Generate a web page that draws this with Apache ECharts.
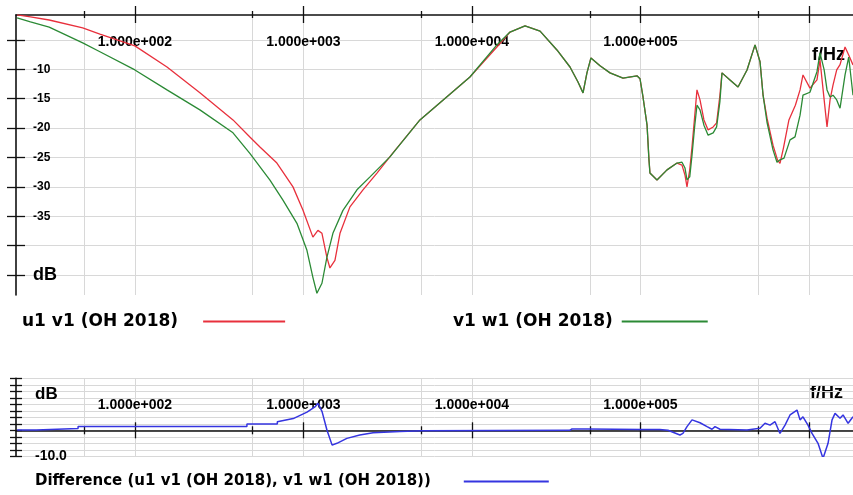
<!DOCTYPE html>
<html><head><meta charset="utf-8">
<script src="https://cdn.jsdelivr.net/npm/echarts@6/dist/echarts.min.js"></script>
<style>html,body{margin:0;padding:0;background:#fff}#c{width:853px;height:495px}</style>
</head><body><div id="c"></div>
<script>
// ---- data (frequency in Hz, level in dB) ----
const redName = 'u1 v1 (OH 2018)';
const greenName = 'v1 w1 (OH 2018)';
const diffName = 'Difference (u1 v1 (OH 2018), v1 w1 (OH 2018))';

const redFreq = [20, 24, 31, 49, 62, 100, 155, 243, 382, 481, 552, 696, 867, 993, 1138, 1219, 1288, 1378, 1436, 1538, 1648, 1888, 2256, 2731, 3398, 4913, 9726, 14060, 16820, 20650, 25360, 31930, 38170, 42580, 45610, 48120, 50820, 57520, 65930, 78760, 95310, 99360, 103500, 109400, 112300, 113800, 125300, 143700, 164800, 176300, 183700, 188800, 196000, 202200, 210000, 216400, 225500, 238000, 252000, 270000, 283000, 296000, 304600, 339700, 379200, 428700, 478300, 512100, 533800, 563400, 611500, 650000, 672700, 705000, 760000, 830000, 884800, 921000, 1013000, 1115000, 1162000, 1230000, 1279000, 1333000, 1388000, 1460000, 1528000, 1636000, 1720000, 1824000];
const redDb = [-0.73, -1.07, -1.6, -2.95, -4.0, -6.0, -9.6, -14.0, -18.6, -21.5, -23.2, -25.95, -30.0, -33.95, -38.55, -37.4, -37.9, -42.0, -43.8, -42.5, -37.9, -33.4, -30.5, -27.65, -24.2, -18.6, -11.3, -6.2, -3.65, -2.6, -3.5, -6.7, -9.6, -12.15, -14.0, -10.6, -8.06, -9.4, -10.6, -11.5, -11.1, -11.6, -14.7, -19.5, -25.4, -27.65, -28.84, -27.1, -25.95, -26.3, -28.0, -30.0, -27.1, -23.2, -17.8, -13.5, -15.2, -18.6, -20.3, -19.8, -19.1, -14.4, -10.6, -11.8, -13.0, -10.1, -5.84, -8.7, -14.4, -18.3, -22.9, -25.4, -26.0, -23.4, -18.6, -16.1, -13.5, -10.95, -13.2, -11.8, -8.4, -15.2, -19.8, -15.2, -12.7, -10.1, -9.2, -6.2, -7.55, -9.25];

const greenFreq = [20, 24, 31, 49, 62, 100, 155, 243, 382, 481, 633, 756, 915, 1049, 1138, 1202, 1288, 1378, 1496, 1716, 2078, 2483, 3261, 4913, 9726, 14060, 16820, 20650, 25360, 31930, 38170, 42580, 45610, 48120, 50820, 57520, 65930, 78760, 95310, 99360, 103500, 109400, 112300, 113800, 125300, 143700, 164800, 176300, 183700, 188800, 196000, 202200, 210000, 216400, 225500, 238000, 252000, 270000, 283000, 296000, 304600, 339700, 379200, 428700, 478300, 512100, 533800, 563400, 611500, 645700, 672700, 711000, 771600, 826000, 884800, 921000, 1013000, 1115000, 1162000, 1230000, 1279000, 1333000, 1388000, 1460000, 1528000, 1636000, 1720000, 1824000];
const greenDb = [-1.24, -1.9, -2.8, -5.5, -7.0, -10.1, -13.5, -16.9, -20.8, -24.3, -28.84, -32.25, -36.2, -40.8, -45.4, -48.1, -46.4, -42.0, -37.9, -34.0, -30.5, -28.3, -24.9, -18.6, -11.3, -5.84, -3.65, -2.6, -3.5, -6.7, -9.6, -12.15, -14.0, -10.6, -8.06, -9.4, -10.6, -11.5, -11.1, -11.6, -14.7, -19.5, -25.4, -27.65, -28.84, -27.1, -25.95, -25.8, -26.8, -28.8, -28.3, -24.6, -19.5, -16.1, -16.9, -19.5, -21.2, -20.8, -19.8, -15.5, -10.6, -11.8, -13.0, -10.1, -5.84, -8.7, -14.4, -19.0, -23.7, -25.8, -25.4, -25.1, -22.0, -21.5, -17.8, -14.4, -13.9, -10.4, -7.2, -10.1, -13.5, -14.7, -14.4, -15.2, -16.6, -10.95, -7.9, -14.4];

const diffFreq = [20, 26, 26, 46, 46, 462, 462, 700, 700, 870, 1050, 1170, 1220, 1290, 1380, 1480, 1580, 1810, 2160, 2590, 3740, 5050, 38000, 39200, 48800, 49500, 102000, 130000, 131000, 145600, 171400, 178600, 188800, 202200, 225500, 248300, 265700, 276800, 296400, 428700, 512100, 548000, 587000, 628600, 672700, 720600, 771600, 848700, 884800, 921000, 986000, 1042000, 1131000, 1211000, 1297000, 1370000, 1427000, 1528000, 1592000, 1706000, 1824000];
const diffDb = [0.1, 0.1, 0.7, 0.7, 1.5, 1.5, 2.4, 2.4, 3.3, 4.5, 7.0, 9.0, 10.4, 7.2, 0, -5.7, -5.0, -3.1, -1.8, -0.9, -0.5, -0.2, 0, 0.5, 0.5, 0, 0.3, 0.3, 0, 0, -1.8, -1.2, 1.4, 4.0, 2.9, 1.4, 0.4, 1.4, 0.4, 0.1, 0.8, 2.7, 2.0, 3.3, -1.2, 2.0, 5.9, 7.8, 4.0, 5.2, 2.0, -1.2, -5.0, -10.8, -5.0, 4.0, 6.5, 4.6, 5.9, 2.7, 5.2];

// axis ranges and tick values
const freqMin = 19.7, freqMax = 1824000;
const majorTicksHz = [100, 1000, 10000, 100000, 1000000];
const minorTicksHz = [50, 500, 5000, 50000, 500000];
const labelTicksHz = [100, 1000, 10000, 100000];
const topDbMin = -48.4, topDbMax = -0.75;
const topDbTicks = [-45, -40, -35, -30, -25, -20, -15, -10, -5];
const topDbLabels = [-45, -35, -30, -25, -20, -15, -10];
const botDbMin = -10, botDbMax = 20;
const botDbTicks = [-10, -7.5, -5, -2.5, 0, 2.5, 5, 7.5, 10, 12.5, 15, 17.5, 20];
const botDbLabels = [-10, 13.75];

// ---- chart ----
const RED = '#e8303c', GREEN = '#2b8a35', BLUE = '#3535e0';
const LBL = {fontFamily: 'Liberation Sans', fontWeight: 'bold', color: '#000'};
const GRIDC = '#d8d8d8';
const lg = v => Math.log10(v);
const lmin = lg(freqMin), lmax = lg(freqMax);
const expFmt = v => '1.000e+' + String(Math.round(v)).padStart(3, '0');

function decorX(grid, opts) {
  return Object.assign({
    type: 'value', gridIndex: grid, min: lmin, max: lmax,
    axisLine: {show: false}, axisLabel: {show: false},
    splitLine: {show: false}, axisTick: {show: false}
  }, opts);
}
function ticks(vals, inside, len) {
  return {show: true, inside: inside, length: len, customValues: vals,
          lineStyle: {color: '#111', width: 1.3}};
}
const majL = majorTicksHz.map(lg), minL = minorTicksHz.map(lg), labL = labelTicksHz.map(lg);
const gridSplit = {show: true, lineStyle: {color: GRIDC, width: 1}};

const xAxes = [
  // top grid
  {type: 'log', gridIndex: 0, min: freqMin, max: freqMax, show: false, logBase: 10},
  decorX(0, {position: 'top', axisLine: {show: true, onZero: false, lineStyle: {color: '#111', width: 1.6}},
             axisTick: ticks(majL, false, 9), splitLine: gridSplit,
             axisLabel: Object.assign({show: true, inside: true, margin: 20, fontSize: 14, customValues: labL, formatter: expFmt}, LBL)}),
  decorX(0, {position: 'top', axisLine: {show: false, onZero: false}, axisTick: ticks(majL, true, 8)}),
  decorX(0, {position: 'top', axisLine: {show: false, onZero: false}, axisTick: ticks(minL, false, 4), splitLine: gridSplit}),
  decorX(0, {position: 'top', axisLine: {show: false, onZero: false}, axisTick: ticks(minL, true, 3)}),
  // bottom grid
  {type: 'log', gridIndex: 1, min: freqMin, max: freqMax, show: false, logBase: 10},
  decorX(1, {position: 'bottom', axisLine: {show: true, onZero: true, onZeroAxisIndex: 2, lineStyle: {color: '#111', width: 1.6}},
             axisTick: ticks(majL, false, 8), splitLine: gridSplit,
             axisLabel: Object.assign({show: true, inside: true, margin: 44, fontSize: 14, customValues: labL, formatter: expFmt}, LBL)}),
  decorX(1, {position: 'bottom', axisLine: {show: false, onZero: true, onZeroAxisIndex: 2}, axisTick: ticks(majL, true, 8)}),
  decorX(1, {position: 'bottom', axisLine: {show: false, onZero: true, onZeroAxisIndex: 2}, axisTick: ticks(minL, false, 4), splitLine: gridSplit}),
  decorX(1, {position: 'bottom', axisLine: {show: false, onZero: true, onZeroAxisIndex: 2}, axisTick: ticks(minL, true, 4)})
];

const yAxes = [
  {type: 'value', gridIndex: 0, position: 'left', min: topDbMin, max: topDbMax,
   axisLine: {show: true, onZero: false, lineStyle: {color: '#111', width: 1.6}},
   axisTick: ticks(topDbTicks, false, 9), splitLine: gridSplit,
   axisLabel: Object.assign({show: true, inside: true, margin: 17, fontSize: 12, customValues: topDbLabels,
     formatter: v => v === -45 ? '{u|dB}' : String(v),
     rich: {u: Object.assign({fontSize: 18}, LBL)}}, LBL)},
  {type: 'value', gridIndex: 0, position: 'left', min: topDbMin, max: topDbMax,
   axisLine: {show: false, onZero: false}, axisLabel: {show: false}, splitLine: {show: false},
   axisTick: ticks(topDbTicks, true, 9)},
  {type: 'value', gridIndex: 1, position: 'left', min: botDbMin, max: botDbMax,
   axisLine: {show: true, onZero: false, lineStyle: {color: '#111', width: 1.6}},
   axisTick: ticks(botDbTicks, false, 6), splitLine: gridSplit,
   axisLabel: Object.assign({show: true, inside: true, margin: 19, fontSize: 14, customValues: botDbLabels,
     formatter: v => v === -10 ? '-10.0' : '{u|dB}',
     rich: {u: Object.assign({fontSize: 17}, LBL)}}, LBL)},
  {type: 'value', gridIndex: 1, position: 'left', min: botDbMin, max: botDbMax,
   axisLine: {show: false, onZero: false}, axisLabel: {show: false}, splitLine: {show: false},
   axisTick: ticks(botDbTicks, true, 6)}
];

const zip = (fs, vs) => fs.map((f, i) => [f, vs[i]]);
const lineSeries = (name, color, xi, yi, data, w) => ({
  name, type: 'line', xAxisIndex: xi, yAxisIndex: yi, data, showSymbol: false, symbol: 'none',
  lineStyle: {color, width: w}, itemStyle: {color}, clip: true, animation: false
});

const legendText = (size, gap) => ({fontFamily: 'DejaVu Sans', fontWeight: 'bold', fontSize: size, color: '#000', padding: [0, gap, 0, 0]});
const legendBase = {orient: 'horizontal', align: 'right', icon: 'rect', itemWidth: 82, itemHeight: 2, selectedMode: false, padding: 0};

const option = {
  backgroundColor: '#fff',
  animation: false,
  grid: [
    {left: 16, top: 15, right: 0, height: 280, containLabel: false},
    {left: 16, top: 378.3, right: 0, height: 78, containLabel: false}
  ],
  xAxis: xAxes,
  yAxis: yAxes,
  legend: [
    Object.assign({}, legendBase, {data: [redName], left: 22, top: 313, textStyle: legendText(17, 20)}),
    Object.assign({}, legendBase, {data: [greenName], left: 453, top: 313, itemWidth: 86, textStyle: legendText(17, 4)}),
    Object.assign({}, legendBase, {data: [diffName], left: 35, top: 474, itemWidth: 85, textStyle: legendText(15, 28)})
  ],
  graphic: [
    {type: 'text', left: 812, top: 46, style: {text: 'f/Hz', fontSize: 18, fill: '#000', fontFamily: 'Liberation Sans', fontWeight: 'bold'}},
    {type: 'text', left: 810, top: 384, style: {text: 'f/Hz', fontSize: 18, fill: '#000', fontFamily: 'Liberation Sans', fontWeight: 'bold'}}
  ],
  series: [
    lineSeries(redName, RED, 0, 0, zip(redFreq, redDb), 1.3),
    lineSeries(greenName, GREEN, 0, 0, zip(greenFreq, greenDb), 1.3),
    lineSeries(diffName, BLUE, 5, 2, zip(diffFreq, diffDb), 1.5)
  ]
};
const chart = echarts.init(document.getElementById('c'), null, {renderer: 'canvas'});
chart.setOption(option);
</script>
</body></html>
